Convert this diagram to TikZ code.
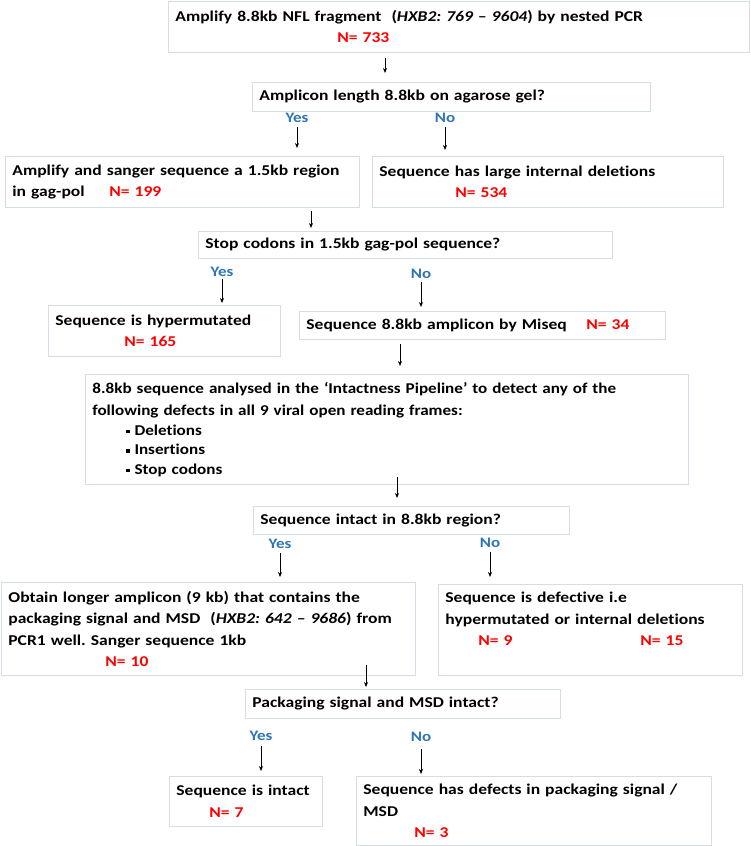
\documentclass[tikz,border=0pt]{standalone}
\usepackage{fontspec}
\setmainfont{Carlito}[FakeStretch=1.17, Ligatures=NoCommon]
\newfontfamily\pipefont{Carlito}[FakeStretch=1.14, Ligatures=NoCommon]
\usepackage{xcolor}
\usetikzlibrary{arrows.meta}
\definecolor{boxline}{HTML}{D5DDE6}
\definecolor{nred}{HTML}{FF0000}
\definecolor{ansblue}{HTML}{2E75B6}
\newcommand{\Nval}[1]{{\color{nred}N= #1}}
\newcommand{\bul}{\rule[2pt]{3.6pt}{3.6pt}}
\frenchspacing

\begin{document}
\begin{tikzpicture}[
    x=1pt, y=-1pt,
    box/.style={draw=boxline, line width=0.8pt, anchor=north west, align=left, inner xsep=7pt, inner ysep=0pt, font=\bfseries\fontsize{15}{21.5}\selectfont},
    ans/.style={font=\bfseries\fontsize{14.5}{16}\selectfont, text=ansblue, inner sep=0pt},
    arr/.style={-{Stealth[length=5pt,width=4pt]}, line width=0.7pt}
]
\useasboundingbox (0,0) rectangle (750,846);

% PCR and gel check
\node[box, text width=567pt, minimum height=51pt] (amp) at (168,0.5) {Amplify 8.8kb NFL fragment~ (\textit{HXB2: 769 – 9604}) by nested PCR\\ \hspace*{162pt}\Nval{733}};
\node[box, text width=384pt, minimum height=29pt] (gel) at (252,82) {Amplicon length 8.8kb on agarose gel?};
\node[ans] (yes1) at (297,118) {Yes};
\node[ans] (no1) at (445,118) {No};
\node[box, text width=340pt, minimum height=51pt] (sanger) at (5,156) {Amplify and sanger sequence a 1.5kb region\\ \makebox[97pt][l]{in gag-pol}\Nval{199}};
\node[box, text width=337pt, minimum height=51pt] (largedel) at (372,156) {Sequence has large internal deletions\\ \hspace*{76pt}\Nval{534}};
\coordinate (c1) at (385,0);
\coordinate (c2) at (311,0);
\draw[arr, shorten <=6pt, shorten >=9pt] (amp.south -| c1) -- (gel.north -| c1);
\draw[arr, shorten <=4pt, shorten >=8pt] (yes1.south) -- (yes1.south |- sanger.north);
\draw[arr, shorten <=4pt, shorten >=6pt] (no1.south) -- (no1.south |- largedel.north);

% Stop codon check
\node[box, text width=400pt, minimum height=27pt] (stop) at (198,231) {Stop codons in 1.5kb gag-pol sequence?};
\node[ans] (yes2) at (222,272) {Yes};
\node[ans] (no2) at (421,274) {No};
\node[box, text width=218pt, minimum height=51pt] (hyper) at (48,305) {Sequence is hypermutated\\ \hspace*{69pt}\Nval{165}};
\node[box, text width=352pt, minimum height=28pt] (miseq) at (299,311) {\makebox[280pt][l]{Sequence 8.8kb amplicon by Miseq}\Nval{34}};
\draw[arr, shorten <=3pt, shorten >=3pt] (sanger.south -| c2) -- (stop.north -| c2);
\draw[arr, shorten <=2pt, shorten >=2pt] (yes2.south) -- (yes2.south |- hyper.north);
\draw[arr, shorten <=3pt, shorten >=4pt] (no2.south) -- (no2.south |- miseq.north);

% Intactness pipeline
\coordinate (c3) at (400,0);
\coordinate (c4) at (397,0);
\node[box, font=\pipefont\bfseries\fontsize{15}{22}\selectfont, text width=589pt, minimum height=110pt] (pipe) at (85,374) {8.8kb sequence analysed in the ‘Intactness Pipeline’ to detect any of the\\ following defects in all 9 viral open reading frames:\\[-2pt]
\hspace*{34pt}\bul\hspace{4.5pt}Deletions\\[-2.5pt]
\hspace*{34pt}\bul\hspace{4.5pt}Insertions\\[-2.5pt]
\hspace*{34pt}\bul\hspace{4.5pt}Stop codons};
\node[box, text width=302pt, minimum height=28pt] (intact) at (253,506) {Sequence intact in 8.8kb region?};
\draw[arr, shorten <=4pt, shorten >=8pt] (miseq.south -| c3) -- (pipe.north -| c3);
\draw[arr, shorten <=-8pt, shorten >=8pt] (pipe.south -| c4) -- (intact.north -| c4);

% Packaging signal check
\node[ans] (yes3) at (280,544) {Yes};
\node[ans] (no3) at (490,543) {No};
\node[box, text width=400pt, minimum height=93pt] (longer) at (1,582) {Obtain longer amplicon (9 kb) that contains the\\ packaging signal and MSD~ (\textit{HXB2: 642 – 9686}) from\\ PCR1 well. Sanger sequence 1kb\\ \hspace*{97pt}\Nval{10}};
\node[box, text width=290pt, minimum height=91pt] (defect) at (438,584) {Sequence is defective i.e\\ hypermutated or internal deletions\\ \hspace*{33pt}\makebox[162pt][l]{\Nval{9}}\Nval{15}\\ \mbox{}};
\draw[arr, shorten <=4pt, shorten >=5pt] (yes3.south) -- (yes3.south |- longer.north);
\draw[arr, shorten <=4pt, shorten >=7pt] (no3.south) -- (no3.south |- defect.north);

\coordinate (c5) at (366,0);
\node[box, text width=301pt, minimum height=29pt] (pack) at (245,689) {Packaging signal and MSD intact?};
\node[ans] (yes4) at (261,736) {Yes};
\node[ans] (no4) at (421,737) {No};
\node[box, text width=139pt, minimum height=50pt] (ok) at (169,776) {Sequence is intact\\ \hspace*{33pt}\Nval{7}};
\node[box, text width=341pt, minimum height=69pt] (psdef) at (356,776) {Sequence has defects in packaging signal /\\ MSD\\ \hspace*{51pt}\Nval{3}};
\draw[arr, shorten <=-11pt, shorten >=2pt] (longer.south -| c5) -- (pack.north -| c5);
\draw[arr, shorten <=5pt, shorten >=5pt] (yes4.south) -- (yes4.south |- ok.north);
\draw[arr, shorten <=7pt, shorten >=2pt] (no4.south) -- (no4.south |- psdef.north);
\end{tikzpicture}
\end{document}
